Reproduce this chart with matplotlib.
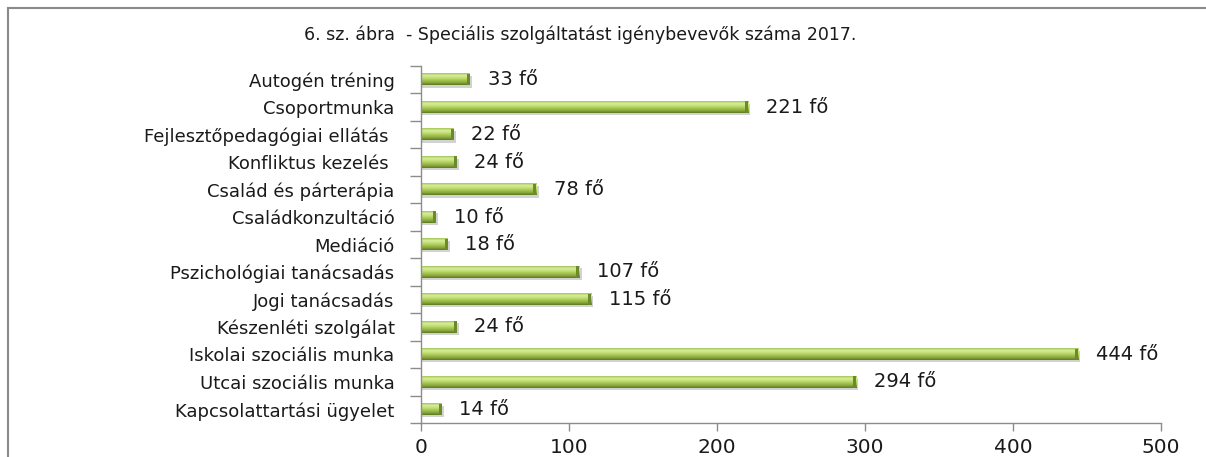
import numpy as np
import matplotlib
matplotlib.use("Agg")
import matplotlib.pyplot as plt
from matplotlib.colors import LinearSegmentedColormap
from matplotlib.lines import Line2D

plt.rcParams['font.family'] = ['DejaVu Sans']

kategoriak = [
    "Autogén tréning",
    "Csoportmunka",
    "Fejlesztőpedagógiai ellátás ",
    "Konfliktus kezelés ",
    "Család és párterápia",
    "Családkonzultáció",
    "Mediáció",
    "Pszichológiai tanácsadás",
    "Jogi tanácsadás",
    "Készenléti szolgálat",
    "Iskolai szociális munka",
    "Utcai szociális munka",
    "Kapcsolattartási ügyelet",
]
letszam = [33, 221, 22, 24, 78, 10, 18, 107, 115, 24, 444, 294, 14]
x_ticks = [0, 100, 200, 300, 400, 500]
cim = "6. sz. ábra  - Speciális szolgáltatást igénybevevők száma 2017."

n = len(kategoriak)
pos = np.arange(n)[::-1]  # first category at top
h = 0.42

fig = plt.figure(figsize=(12.06, 4.57), dpi=100)
ax = fig.add_axes([421 / 1206, 1 - 423 / 457, (1161 - 421) / 1206, (423 - 66) / 457])

# gradient for the 3D look of the bars
cmap = LinearSegmentedColormap.from_list(
    "zold", ["#a4c458", "#d8ef9c", "#c3df76", "#a6c552", "#88a83b", "#5b7a20"])
grad = np.linspace(0, 1, 64).reshape(-1, 1)

for y, v in zip(pos, letszam):
    # soft shadow under the bar
    ax.barh(y - 0.08, v + 1.5, height=h, left=0, color="#d2d2d2", zorder=1, linewidth=0)
    ax.imshow(grad, cmap=cmap, aspect="auto", origin="upper",
              extent=(0, v, y - h / 2, y + h / 2), zorder=2, interpolation="bilinear")
    # darker end cap
    cap = min(2.0, v * 0.2)
    ax.barh(y, cap, height=h, left=v - cap, color="#6b8a2a", zorder=3, linewidth=0)
    ax.text(v + 12, y, f"{v} fő", va="center", ha="left", fontsize=14, color="#1a1a1a")

ax.set_xlim(0, 500)
ax.set_ylim(-0.5, n - 0.5)
ax.set_xticks(x_ticks)
ax.set_xticklabels([str(t) for t in x_ticks], fontsize=14.5, color="#1a1a1a")
ax.set_yticks(pos)
ax.set_yticklabels(kategoriak, fontsize=13, color="#1a1a1a")
ax.set_yticks(np.arange(n + 1) - 0.5, minor=True)
ax.tick_params(axis="y", which="major", length=0, pad=19)
ax.tick_params(axis="y", which="minor", length=8, color="#8c8c8c", width=1)
ax.tick_params(axis="x", length=6, color="#8c8c8c", width=1, pad=5)
for s in ["top", "right"]:
    ax.spines[s].set_visible(False)
for s in ["left", "bottom"]:
    ax.spines[s].set_color("#8c8c8c")
    ax.spines[s].set_linewidth(1)

fig.text(0.481, 1 - 35 / 457, cim, ha="center", va="center", fontsize=12.5, color="#1a1a1a")

# chart frame (cut off at right and bottom)
fx = 7.5 / 1206
fy = 1 - 7.5 / 457
fig.add_artist(Line2D([fx, fx], [0, fy], transform=fig.transFigure, color="#8a8a8a", lw=1.5))
fig.add_artist(Line2D([fx, 1], [fy, fy], transform=fig.transFigure, color="#8a8a8a", lw=1.5))

fig.savefig("out.png", dpi=100)
